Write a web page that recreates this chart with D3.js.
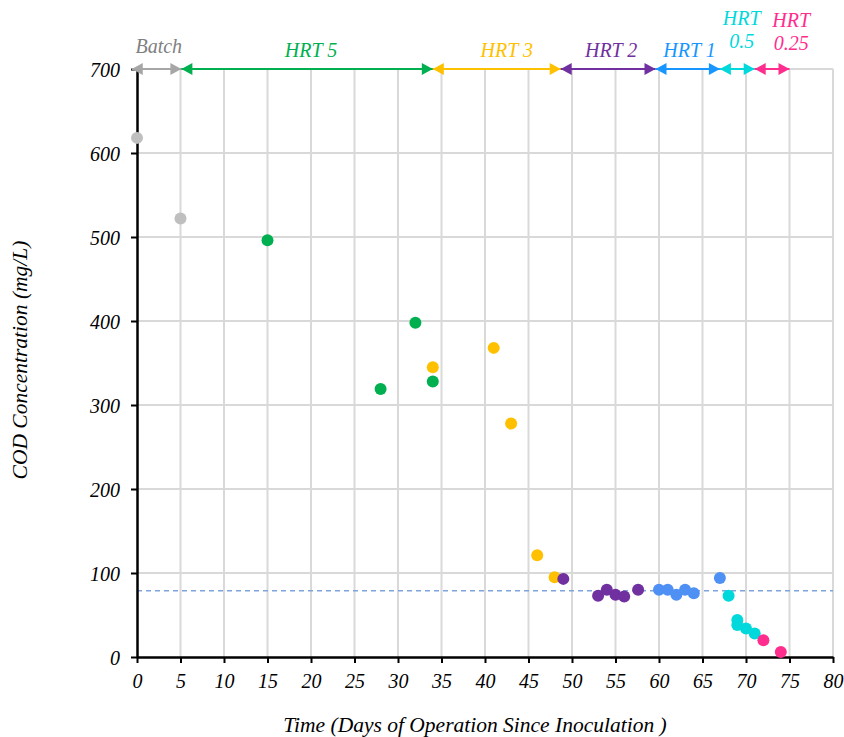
<!DOCTYPE html>
<html>
<head>
<meta charset="utf-8">
<script src="https://cdn.jsdelivr.net/npm/d3@7"></script>
<style>
  body { margin: 0; background: #fff; }
  text { font-family: "Liberation Serif", "Times New Roman", serif; font-style: italic; }
</style>
</head>
<body>
<div id="chart"></div>
<script>
// phases: name, colour of points, colour of arrow/label
var phaseNames = ["Batch", "HRT 5", "HRT 3", "HRT 2", "HRT 1", "HRT 0.5", "HRT 0.25"];
var pointColors = ["#bfbfbf", "#00b050", "#ffc000", "#7030a0", "#4f90f5", "#00d8dc", "#ff2d8e"];
var arrowColors = ["#a6a6a6", "#00b050", "#ffc000", "#7030a0", "#1896ff", "#00d8dc", "#ff2d8e"];
var labelColors = ["#808080", "#00b050", "#ffc000", "#7030a0", "#1896ff", "#00d8dc", "#ff2d8e"];
var phaseBounds = [-0.6, 5.1, 34, 48.7, 59.6, 67, 71, 75];
var labelDays = [2.5, 20, 42.5, 54.5, 63.5, 69.5, 75.2];

// measured points per phase
var batchDays = [0, 5];
var batchCOD = [618, 522];
var hrt5Days = [15, 28, 32, 34];
var hrt5COD = [496, 319, 398, 328];
var hrt3Days = [34, 41, 43, 46, 48];
var hrt3COD = [345, 368, 278, 121, 95];
var hrt2Days = [49, 53, 54, 55, 56, 57.6];
var hrt2COD = [93, 73, 80, 74, 72, 80];
var hrt1Days = [60, 61, 62, 63, 64, 67];
var hrt1COD = [80, 80, 74, 80, 76, 94];
var hrt05Days = [68, 69, 69, 70, 71];
var hrt05COD = [73, 44, 38, 34, 28];
var hrt025Days = [72, 74];
var hrt025COD = [20, 6];

var limitCOD = 79;

var xTicks = d3.range(0, 81, 5);
var yTicks = d3.range(0, 701, 100);

var seriesDays = [batchDays, hrt5Days, hrt3Days, hrt2Days, hrt1Days, hrt05Days, hrt025Days];
var seriesCOD = [batchCOD, hrt5COD, hrt3COD, hrt2COD, hrt1COD, hrt05COD, hrt025COD];

var svgWidth = 844;
var svgHeight = 737;
var margin = {top: 69, right: 11, bottom: 80, left: 137};
var width = svgWidth - margin.left - margin.right;
var height = svgHeight - margin.top - margin.bottom;

var svg = d3.select("#chart").append("svg")
  .attr("width", svgWidth)
  .attr("height", svgHeight);

var chartGroup = svg.append("g")
  .attr("transform", `translate(${margin.left}, ${margin.top})`);

var x = d3.scaleLinear().domain([0, 80]).range([0, width]);
var y = d3.scaleLinear().domain([0, 700]).range([height, 0]);

// grid
chartGroup.append("g").selectAll("line").data(xTicks.slice(1)).enter()
  .append("line")
  .attr("x1", d => x(d)).attr("x2", d => x(d))
  .attr("y1", 0).attr("y2", height)
  .attr("stroke", "#d9d9d9").attr("stroke-width", 2);
chartGroup.append("g").selectAll("line").data(yTicks.slice(1)).enter()
  .append("line")
  .attr("x1", 0).attr("x2", width)
  .attr("y1", d => y(d)).attr("y2", d => y(d))
  .attr("stroke", "#d9d9d9").attr("stroke-width", 2);

// dashed limit line
chartGroup.append("line")
  .attr("x1", 0).attr("x2", width)
  .attr("y1", y(limitCOD)).attr("y2", y(limitCOD))
  .attr("stroke", "#7fa3db").attr("stroke-width", 1.5)
  .attr("stroke-dasharray", "5,4");

// axes
var bottomAxis = d3.axisBottom(x).tickValues(xTicks).tickSize(6).tickSizeOuter(0);
var leftAxis = d3.axisLeft(y).tickValues(yTicks).tickSize(6).tickSizeOuter(0);

var gx = chartGroup.append("g")
  .attr("transform", `translate(0, ${height})`)
  .call(bottomAxis);
var gy = chartGroup.append("g").call(leftAxis);

[gx, gy].forEach(function(g) {
  g.select(".domain").attr("stroke", "#000").attr("stroke-width", 2.5);
  g.selectAll(".tick line").attr("stroke", "#000").attr("stroke-width", 2);
  g.selectAll(".tick text")
    .attr("font-family", "Liberation Serif, serif")
    .attr("font-style", "italic")
    .attr("font-size", 20)
    .attr("fill", "#000");
});
gx.selectAll(".tick text").attr("dy", "1.1em");
gy.selectAll(".tick text").attr("x", -17).attr("dy", "0.35em");

// phase arrows along the top
var arrowLen = 11, arrowHalf = 6;
phaseNames.forEach(function(name, i) {
  var x0 = x(phaseBounds[i]);
  var x1 = x(phaseBounds[i + 1]);
  var col = arrowColors[i];
  chartGroup.append("line")
    .attr("x1", x0).attr("x2", x1)
    .attr("y1", y(700)).attr("y2", y(700))
    .attr("stroke", col).attr("stroke-width", 2);
  chartGroup.append("path")
    .attr("d", `M${x0},${y(700)}L${x0 + arrowLen},${y(700) - arrowHalf}L${x0 + arrowLen},${y(700) + arrowHalf}Z`)
    .attr("fill", col);
  chartGroup.append("path")
    .attr("d", `M${x1},${y(700)}L${x1 - arrowLen},${y(700) - arrowHalf}L${x1 - arrowLen},${y(700) + arrowHalf}Z`)
    .attr("fill", col);
});

// phase labels
phaseNames.forEach(function(name, i) {
  var parts = name.split(" ");
  var t = chartGroup.append("text")
    .attr("text-anchor", "middle")
    .attr("font-size", 20)
    .attr("fill", labelColors[i]);
  if (parts[0] === "HRT" && parts[1].indexOf(".") >= 0) {
    var top = i === 5 ? -44 : -42;
    t.append("tspan").attr("x", x(labelDays[i])).attr("y", top).text(parts[0]);
    t.append("tspan").attr("x", x(labelDays[i])).attr("y", top + 23).text(parts[1]);
  } else {
    t.attr("x", x(labelDays[i]))
      .attr("y", i === 0 ? -16 : -12)
      .text(name);
  }
});

// points
seriesDays.forEach(function(days, i) {
  chartGroup.append("g").selectAll("circle")
    .data(days.map((d, j) => [d, seriesCOD[i][j]]))
    .enter().append("circle")
    .attr("cx", d => x(d[0]))
    .attr("cy", d => y(d[1]))
    .attr("r", 6)
    .attr("fill", pointColors[i]);
});

// axis titles
chartGroup.append("text")
  .attr("transform", "rotate(-90)")
  .attr("x", -291)
  .attr("y", -margin.left + 27)
  .attr("text-anchor", "middle")
  .attr("font-size", 21.5)
  .text("COD Concentration (mg/L)");

chartGroup.append("text")
  .attr("x", x(38.85))
  .attr("y", height + 75)
  .attr("text-anchor", "middle")
  .attr("font-size", 21.5)
  .text("Time (Days of Operation Since Inoculation )");
</script>
</body>
</html>
